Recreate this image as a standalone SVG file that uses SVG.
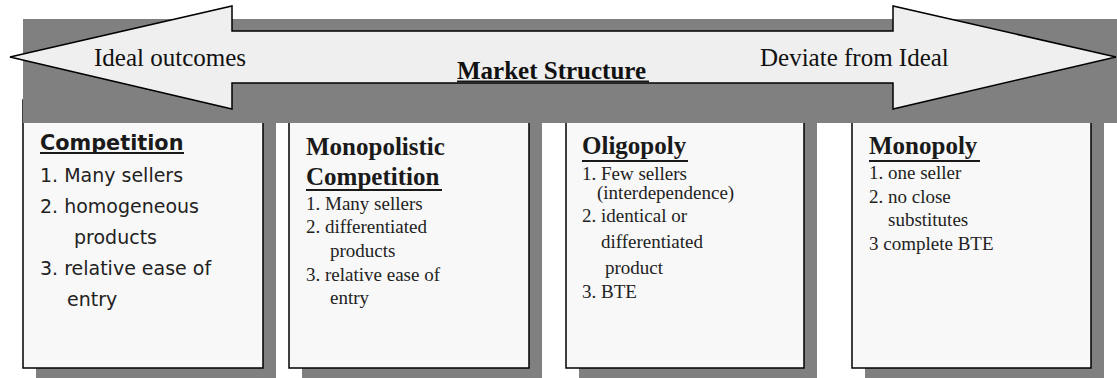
<svg xmlns="http://www.w3.org/2000/svg" width="1117" height="378" viewBox="0 0 1117 378">
<style>
.shadow{fill:#808080}
.box{fill:#f8f8f8;stroke:#000;stroke-width:1.5}
.band{fill:#808080}
.arrow{fill:#efefef;stroke:#000;stroke-width:1.5;stroke-linejoin:miter}
.big{font-family:"Liberation Serif","Times New Roman",serif;font-size:25px;fill:#111}
.bigb{font-family:"Liberation Serif","Times New Roman",serif;font-size:25px;font-weight:bold;fill:#111}
.tt{font-family:"Liberation Serif","Times New Roman",serif;font-size:25px;font-weight:bold;fill:#1a1a1a}
.it{font-family:"Liberation Serif","Times New Roman",serif;font-size:19px;fill:#222}
.vt{font-family:"DejaVu Sans",Verdana,sans-serif;font-size:20.8px;font-weight:bold;fill:#1a1a1a}
.vi{font-family:"DejaVu Sans",Verdana,sans-serif;font-size:19px;fill:#222}
.ul{stroke:#1a1a1a;stroke-width:2.2}
</style>
<g id="shadows">
<rect class="shadow" x="36" y="110" width="240" height="268"/>
<rect class="shadow" x="302" y="110" width="240" height="268"/>
<rect class="shadow" x="579" y="110" width="238" height="268"/>
<rect class="shadow" x="865" y="110" width="239" height="268"/>
</g>
<g id="node-perfect">
<rect class="box" x="23" y="100" width="240" height="268"/>
<text class="vt" x="40" y="150">Competition</text>
<line class="ul" x1="40" y1="153" x2="184" y2="153"/>
<text class="vi" x="40" y="182">1. Many sellers</text>
<text class="vi" x="40" y="213">2. homogeneous</text>
<text class="vi" x="74" y="244">products</text>
<text class="vi" x="40" y="275">3. relative ease of</text>
<text class="vi" x="67" y="306">entry</text>
</g>
<g id="node-monopolistic">
<rect class="box" x="289" y="100" width="240" height="268"/>
<text class="tt" x="306" y="155">Monopolistic</text>
<text class="tt" x="306" y="185">Competition</text>
<line class="ul" x1="306" y1="190" x2="442" y2="190"/>
<text class="it" x="306" y="210">1. Many sellers</text>
<text class="it" x="306" y="233">2. differentiated</text>
<text class="it" x="330" y="257">products</text>
<text class="it" x="306" y="281">3. relative ease of</text>
<text class="it" x="330" y="304">entry</text>
</g>
<g id="node-oligopoly">
<rect class="box" x="566" y="100" width="238" height="268"/>
<text class="tt" x="582" y="154">Oligopoly</text>
<line class="ul" x1="582" y1="161" x2="688" y2="161"/>
<text class="it" x="582" y="180">1. Few sellers</text>
<text class="it" x="597" y="199">(interdependence)</text>
<text class="it" x="582" y="222">2. identical or</text>
<text class="it" x="601" y="248">differentiated</text>
<text class="it" x="605" y="274">product</text>
<text class="it" x="582" y="298">3. BTE</text>
</g>
<g id="node-monopoly">
<rect class="box" x="852" y="100" width="239" height="268"/>
<text class="tt" x="869" y="154">Monopoly</text>
<line class="ul" x1="869" y1="161" x2="980" y2="161"/>
<text class="it" x="869" y="179">1. one seller</text>
<text class="it" x="869" y="203">2. no close</text>
<text class="it" x="888" y="226">substitutes</text>
<text class="it" x="869" y="250">3 complete BTE</text>
</g>
<g id="band">
<rect class="band" x="23" y="19" width="1094" height="104"/>
</g>
<g id="connectors">
<polygon class="arrow" points="10,57 232,6 232,31 893,31 893,6 1116,57 893,109 893,83 232,83 232,109"/>
</g>
<g id="labels">
<text class="big" x="94" y="66">Ideal outcomes</text>
<text class="big" x="760" y="66">Deviate from Ideal</text>
<text class="bigb" x="457" y="79">Market Structure</text>
<line class="ul" x1="457" y1="81.5" x2="649" y2="81.5"/>
</g>
</svg>
